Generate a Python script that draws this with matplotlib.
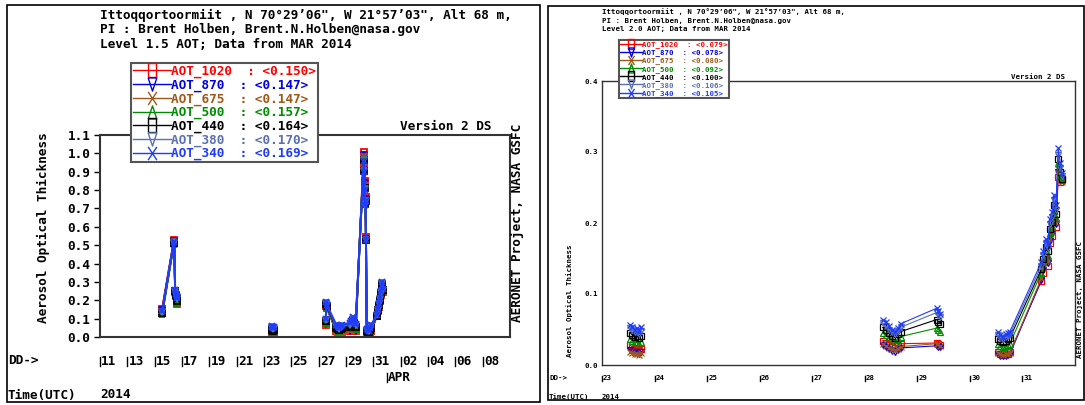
import numpy as np
import matplotlib.pyplot as plt
from matplotlib.lines import Line2D
from matplotlib.patches import Rectangle
from matplotlib.path import Path

# AOD channels, drawn long wavelength first so 340 nm ends up on top
names = ['AOT_1020', 'AOT_870', 'AOT_675', 'AOT_500', 'AOT_440', 'AOT_380', 'AOT_340']
colors = ['#ff0000', '#0000e6', '#a0581a', '#008c00', '#000000', '#5a70b0', '#1e3cff']
markers = ['s', 'v', 'x', '^', 's', 'v', 'x']

# ---- Level 1.5, day of March 2014 (UTC) ----
t15 = [15.55,
       16.40, 16.43, 16.50, 16.55, 16.62, 16.66,
       23.55, 23.60, 23.66, 23.72,
       27.52, 27.56, 27.60,
       28.30, 28.40, 28.50, 28.60, 28.70,
       29.30, 29.40, 29.50, 29.60, 29.70,
       30.30, 30.33, 30.36, 30.40, 30.43, 30.46,
       30.52, 30.60, 30.68, 30.76, 30.84,
       31.24, 31.32, 31.40, 31.48, 31.56, 31.64, 31.72]
aot15_1020 = [.155, .525, .530, .250, .225, .180, .200, .025, .020, .018, .022,
              .065, .170, .160, .030, .025, .020, .024, .028, .030, .035, .060, .050, .030,
              1.005, .940, .850, .750, .760, .545, .015, .012, .010, .020, .030,
              .115, .140, .165, .195, .230, .275, .245]
aot15_870 = [.148, .520, .525, .245, .222, .185, .205, .022, .018, .016, .020,
             .070, .175, .162, .030, .026, .022, .026, .030, .035, .040, .065, .055, .035,
             .990, .930, .840, .740, .750, .535, .013, .010, .008, .018, .028,
             .115, .140, .165, .195, .232, .278, .248]
aot15_675 = [.135, .512, .518, .240, .218, .178, .195, .020, .016, .014, .018,
             .068, .172, .160, .028, .024, .020, .024, .028, .032, .038, .062, .052, .032,
             .985, .925, .830, .735, .745, .530, .012, .010, .008, .016, .026,
             .112, .138, .162, .192, .228, .275, .245]
aot15_500 = [.125, .505, .512, .242, .222, .185, .205, .035, .030, .027, .032,
             .078, .178, .165, .042, .036, .030, .036, .042, .048, .055, .080, .068, .046,
             .970, .915, .820, .725, .740, .528, .025, .022, .019, .030, .042,
             .115, .142, .168, .198, .235, .282, .250]
aot15_440 = [.132, .510, .515, .248, .228, .195, .212, .042, .036, .033, .040,
             .085, .182, .168, .050, .044, .037, .044, .050, .056, .064, .090, .078, .054,
             .965, .905, .810, .722, .738, .528, .032, .028, .025, .038, .050,
             .117, .145, .172, .203, .242, .290, .254]
aot15_380 = [.138, .513, .518, .252, .232, .205, .220, .052, .047, .043, .050,
             .093, .186, .172, .058, .052, .045, .054, .060, .066, .076, .100, .088, .063,
             .962, .902, .805, .720, .738, .530, .040, .035, .031, .045, .058,
             .119, .148, .177, .207, .247, .296, .258]
aot15_340 = [.140, .515, .520, .255, .235, .215, .225, .058, .052, .048, .055,
             .100, .190, .175, .065, .058, .050, .060, .066, .075, .085, .110, .095, .070,
             .960, .900, .800, .720, .740, .530, .045, .040, .035, .050, .065,
             .120, .150, .180, .210, .250, .300, .260]
mean15 = [0.150, 0.147, 0.147, 0.157, 0.164, 0.170, 0.169]

# ---- Level 2.0 ----
t20 = [23.54, 23.58, 23.62, 23.66, 23.70, 23.74,
       28.34, 28.40, 28.46, 28.52, 28.58, 28.64, 28.68,
       29.37, 29.40, 29.44,
       30.53, 30.58, 30.63, 30.68, 30.72, 30.76,
       31.36, 31.40, 31.44, 31.48, 31.52, 31.56, 31.60, 31.64, 31.68, 31.72, 31.76]
aot20_1020 = [.028, .025, .022, .024, .020, .023,
              .034, .031, .028, .025, .024, .027, .030,
              .031, .030, .028,
              .018, .016, .014, .015, .016, .018,
              .118, .130, .148, .140, .172, .182, .205, .195, .265, .258, .262]
aot20_870 = [.021, .019, .017, .018, .016, .019,
             .028, .025, .022, .020, .019, .021, .024,
             .027, .026, .025,
             .015, .013, .012, .013, .014, .015,
             .120, .134, .150, .144, .175, .185, .210, .198, .272, .262, .260]
aot20_675 = [.019, .017, .015, .016, .014, .017,
             .030, .027, .024, .022, .021, .023, .026,
             .030, .029, .027,
             .017, .015, .014, .015, .016, .017,
             .122, .137, .152, .147, .178, .188, .212, .200, .276, .262, .258]
aot20_500 = [.036, .034, .032, .033, .030, .033,
             .045, .042, .038, .035, .033, .036, .040,
             .052, .050, .047,
             .029, .027, .025, .027, .028, .030,
             .130, .145, .160, .154, .186, .196, .220, .207, .284, .268, .260]
aot20_440 = [.045, .042, .040, .041, .038, .041,
             .053, .049, .045, .041, .038, .043, .047,
             .064, .061, .058,
             .037, .034, .032, .034, .036, .038,
             .135, .150, .166, .160, .192, .202, .226, .212, .290, .272, .262]
aot20_380 = [.052, .049, .046, .047, .044, .048,
             .059, .055, .050, .046, .043, .048, .053,
             .074, .070, .067,
             .042, .038, .036, .039, .041, .043,
             .140, .155, .172, .165, .198, .208, .232, .218, .296, .278, .266]
aot20_340 = [.057, .054, .050, .052, .048, .053,
             .064, .060, .055, .050, .047, .052, .058,
             .080, .076, .072,
             .046, .042, .040, .043, .045, .047,
             .145, .160, .178, .170, .205, .215, .240, .225, .305, .285, .270]
mean20 = [0.079, 0.078, 0.080, 0.092, 0.100, 0.106, 0.105]

# x tick days (day of March; 33 = APR 02)
days15 = [11, 13, 15, 17, 19, 21, 23, 25, 27, 29, 31, 33, 35, 37, 39]
lbl15 = ['11', '13', '15', '17', '19', '21', '23', '25', '27', '29', '31', '02', '04', '06', '08']
days20 = [23, 24, 25, 26, 27, 28, 29, 30, 31]
lbl20 = ['23', '24', '25', '26', '27', '28', '29', '30', '31']

W, H = 1085, 405
MONO = 'DejaVu Sans Mono'
fig = plt.figure(figsize=(W / 100, H / 100), dpi=100)


def fx(x):
    return x / W


def fy(y):
    return 1 - y / H


def with_gaps(t, v, max_gap=1.0):
    # break the line where the record has a gap of more than a day
    t = np.asarray(t, float)
    v = np.asarray(v, float)
    idx = np.where(np.diff(t) > max_gap)[0] + 1
    return np.insert(t, idx, np.nan), np.insert(v, idx, np.nan)


# tall legend glyphs
tall = {
    's': Path([(-0.33, -0.5), (0.33, -0.5), (0.33, 0.5), (-0.33, 0.5), (-0.33, -0.5)]),
    'v': Path([(-0.33, 0.5), (0.33, 0.5), (0, -0.5), (-0.33, 0.5)]),
    '^': Path([(-0.33, -0.5), (0.33, -0.5), (0, 0.5), (-0.33, -0.5)]),
    'x': Path([(-0.33, -0.5), (0.33, 0.5), (-0.33, 0.5), (0.33, -0.5)],
              [Path.MOVETO, Path.LINETO, Path.MOVETO, Path.LINETO]),
}


def day_label(ax, d, lab, off, bar, fs):
    trans = ax.get_xaxis_transform()
    ax.plot([d, d], [-off - bar, -off + bar * 0.8], color='black', lw=1,
            transform=trans, clip_on=False)
    ax.annotate(lab, xy=(d, -off), xycoords=trans, xytext=(0.8, 0),
                textcoords='offset points', ha='left', va='center',
                family=MONO, weight='bold', fontsize=fs)


def panel(border, axbox, t, series, means, level, xlim, ylim, yticks, ylabfmt,
          days, dlabels, fs, ms, mew, lw, leg_xy, leg_ms, leg_sp, title_ys, version_xy,
          ylab_xy, aero_xy, dd_y, time_y, tick_len, spine_lw, month=None):
    x0, y0, x1, y1 = border
    fig.add_artist(Rectangle((fx(x0), fy(y1)), fx(x1) - fx(x0), fy(y0) - fy(y1),
                             transform=fig.transFigure, fill=False, ec='black', lw=1.2))
    l, tp, r, b = axbox
    ax = fig.add_axes([fx(l), fy(b), fx(r) - fx(l), fy(tp) - fy(b)])
    ax_h = b - tp

    for v, c, m in zip(series, colors, markers):
        tt, vv = with_gaps(t, v)
        ax.plot(tt, vv, color=c, lw=lw, marker=m, ms=ms, mfc='none', mec=c, mew=mew)

    ax.set_xlim(*xlim)
    ax.set_ylim(*ylim)
    ax.set_xticks([])
    ax.set_yticks(yticks)
    ax.set_yticklabels([ylabfmt.format(y) for y in yticks], family=MONO,
                       weight='bold', fontsize=fs)
    ax.tick_params(axis='y', length=tick_len, width=1, pad=3)
    for s in ax.spines.values():
        s.set_linewidth(spine_lw)
        s.set_color('#333333')

    # day labels with the small leading bar
    off = (dd_y - b) / ax_h
    bar = 0.5 * fs * 1.1 / ax_h
    for d, lab in zip(days, dlabels):
        day_label(ax, d, lab, off, bar, fs)
    if month is not None:
        md, mlab, my = month
        day_label(ax, md, mlab, (my - b) / ax_h, bar, fs)

    txt = dict(family=MONO, weight='bold', fontsize=fs)
    fig.text(fx(x0 + 1), fy(dd_y), 'DD->', va='center', **txt)
    fig.text(fx(x0 + 1), fy(time_y), 'Time(UTC)', va='center', **txt)
    fig.text(fx(l), fy(time_y), '2014', va='center', **txt)

    titles = ['Ittoqqortoormiit , N 70\u00b029\u201906", W 21\u00b057\u201903", Alt 68 m,',
              'PI : Brent Holben, Brent.N.Holben@nasa.gov',
              'Level %s AOT; Data from MAR 2014' % level]
    for s, yy in zip(titles, title_ys):
        fig.text(fx(l), fy(yy), s, va='center', **txt)

    fig.text(fx(version_xy[0]), fy(version_xy[1]), 'Version 2 DS', ha='right',
             va='center', **txt)
    fig.text(fx(ylab_xy[0]), fy(ylab_xy[1]), 'Aerosol Optical Thickness', rotation=90,
             ha='center', va='center', **txt)
    fig.text(fx(aero_xy[0]), fy(aero_xy[1]), 'AERONET Project, NASA GSFC', rotation=90,
             ha='center', va='center', **txt)

    handles = [Line2D([], [], color=c, lw=1, marker=tall[m], ms=leg_ms, mfc='none',
                      mec=c, mew=1) for c, m in zip(colors, markers)]
    labels = ['%s  : <%.3f>' % (n, mv) for n, mv in zip(names, means)]
    leg = ax.legend(handles, labels, loc='upper left',
                    bbox_to_anchor=(fx(leg_xy[0]), fy(leg_xy[1])),
                    bbox_transform=fig.transFigure, prop=dict(family=MONO, weight='bold', size=fs),
                    handlelength=3.0, handletextpad=0.0, labelspacing=leg_sp,
                    borderpad=0.15, borderaxespad=0, fancybox=False, framealpha=1,
                    edgecolor='#555555', numpoints=1)
    leg.get_frame().set_linewidth(1.5)
    for tx, c in zip(leg.get_texts(), colors):
        tx.set_color(c)
    return ax


series15 = [aot15_1020, aot15_870, aot15_675, aot15_500, aot15_440, aot15_380, aot15_340]
series20 = [aot20_1020, aot20_870, aot20_675, aot20_500, aot20_440, aot20_380, aot20_340]

panel(border=(7, 5, 540, 402), axbox=(100, 135, 510, 337), t=t15, series=series15,
      means=mean15, level='1.5', xlim=(11, 41), ylim=(0, 1.1),
      yticks=np.round(np.arange(0, 1.11, 0.1), 1), ylabfmt='{:.1f}',
      days=days15, dlabels=lbl15, fs=9.2, ms=4, mew=1.3, lw=1.4, leg_xy=(131, 63),
      leg_ms=9.5, leg_sp=0.03,
      title_ys=(15, 30, 45), version_xy=(491, 127), ylab_xy=(43, 228), aero_xy=(518, 223),
      dd_y=361, time_y=395, tick_len=4, spine_lw=1.5, month=(32, 'APR', 377))

panel(border=(548, 6, 1084, 400), axbox=(602, 81, 1075, 365), t=t20, series=series20,
      means=mean20, level='2.0', xlim=(23, 32), ylim=(0, 0.4),
      yticks=np.round(np.arange(0, 0.41, 0.1), 1), ylabfmt='{:.1f}',
      days=days20, dlabels=lbl20, fs=5.3, ms=5, mew=0.9, lw=0.8, leg_xy=(619, 40),
      leg_ms=6.5, leg_sp=0.15,
      title_ys=(12, 21, 29), version_xy=(1065, 77), ylab_xy=(570, 301), aero_xy=(1080, 300),
      dd_y=378, time_y=397, tick_len=0, spine_lw=1.0)

fig.savefig('out.png', dpi=100)
